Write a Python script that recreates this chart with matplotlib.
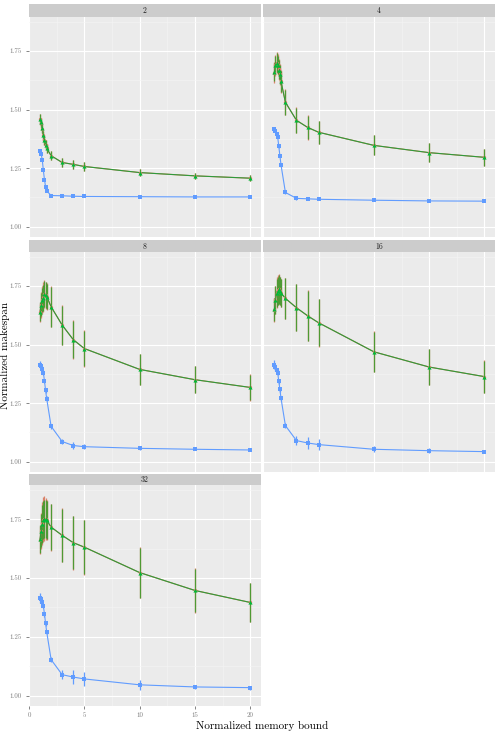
import matplotlib
matplotlib.use("Agg")
import matplotlib.pyplot as plt

plt.rcParams["font.family"] = ["cmr10", "DejaVu Serif"]
plt.rcParams["axes.formatter.use_mathtext"] = True

# memory bound values (shared by every facet)
x = [1.0, 1.1, 1.2, 1.3, 1.4, 1.5, 1.6, 2, 3, 4, 5, 10, 15, 20]

facets = ["2", "4", "8", "16", "32"]

# facet 2
red_2 = [1.458, 1.443, 1.418, 1.39, 1.369, 1.35, 1.334, 1.303, 1.274, 1.266, 1.257, 1.231, 1.217, 1.207]
red_2_err = [0.022, 0.022, 0.02, 0.02, 0.02, 0.02, 0.02, 0.02, 0.018, 0.018, 0.018, 0.015, 0.013, 0.012]
green_2 = [1.46, 1.445, 1.42, 1.39, 1.37, 1.35, 1.335, 1.303, 1.274, 1.266, 1.257, 1.231, 1.217, 1.207]
green_2_err = [0.02, 0.02, 0.02, 0.02, 0.02, 0.02, 0.02, 0.02, 0.018, 0.018, 0.018, 0.015, 0.013, 0.012]
blue_2 = [1.325, 1.31, 1.285, 1.24, 1.20, 1.17, 1.153, 1.133, 1.132, 1.130, 1.129, 1.128, 1.127, 1.127]
blue_2_err = [0.005, 0.005, 0.005, 0.004, 0.004, 0.004, 0.004, 0.003, 0.003, 0.003, 0.003, 0.003, 0.003, 0.003]

# facet 4
red_4 = [1.658, 1.688, 1.70, 1.692, 1.672, 1.65, 1.62, 1.531, 1.454, 1.424, 1.403, 1.347, 1.316, 1.296]
red_4_err = [0.045, 0.045, 0.045, 0.045, 0.045, 0.045, 0.05, 0.055, 0.055, 0.052, 0.05, 0.043, 0.04, 0.035]
green_4 = [1.66, 1.69, 1.70, 1.69, 1.67, 1.65, 1.62, 1.531, 1.454, 1.424, 1.403, 1.347, 1.316, 1.296]
green_4_err = [0.04, 0.04, 0.04, 0.04, 0.04, 0.04, 0.045, 0.053, 0.053, 0.05, 0.05, 0.043, 0.04, 0.035]
blue_4 = [1.417, 1.41, 1.397, 1.383, 1.343, 1.303, 1.264, 1.146, 1.121, 1.119, 1.117, 1.113, 1.11, 1.109]
blue_4_err = [0.008, 0.006, 0.006, 0.006, 0.005, 0.005, 0.005, 0.005, 0.005, 0.004, 0.004, 0.003, 0.003, 0.003]

# facet 8
red_8 = [1.638, 1.668, 1.692, 1.702, 1.716, 1.71, 1.705, 1.661, 1.583, 1.521, 1.483, 1.394, 1.35, 1.317]
red_8_err = [0.04, 0.055, 0.06, 0.065, 0.06, 0.058, 0.056, 0.088, 0.085, 0.082, 0.078, 0.066, 0.058, 0.056]
green_8 = [1.64, 1.67, 1.69, 1.70, 1.715, 1.71, 1.705, 1.661, 1.583, 1.521, 1.483, 1.394, 1.35, 1.317]
green_8_err = [0.04, 0.05, 0.05, 0.055, 0.055, 0.055, 0.055, 0.086, 0.083, 0.08, 0.075, 0.065, 0.057, 0.055]
blue_8 = [1.414, 1.409, 1.397, 1.38, 1.344, 1.304, 1.269, 1.151, 1.086, 1.069, 1.064, 1.057, 1.053, 1.05]
blue_8_err = [0.015, 0.01, 0.01, 0.01, 0.01, 0.01, 0.01, 0.01, 0.012, 0.015, 0.01, 0.006, 0.005, 0.004]

# facet 16
red_16 = [1.648, 1.69, 1.722, 1.732, 1.736, 1.73, 1.72, 1.697, 1.657, 1.623, 1.593, 1.469, 1.404, 1.363]
red_16_err = [0.05, 0.06, 0.065, 0.065, 0.065, 0.06, 0.06, 0.088, 0.10, 0.108, 0.102, 0.087, 0.076, 0.069]
green_16 = [1.65, 1.69, 1.72, 1.73, 1.735, 1.73, 1.72, 1.697, 1.657, 1.623, 1.593, 1.469, 1.404, 1.363]
green_16_err = [0.05, 0.06, 0.06, 0.06, 0.06, 0.06, 0.06, 0.086, 0.10, 0.107, 0.10, 0.086, 0.075, 0.068]
blue_16 = [1.414, 1.404, 1.39, 1.38, 1.343, 1.309, 1.271, 1.154, 1.09, 1.08, 1.073, 1.053, 1.047, 1.043]
blue_16_err = [0.02, 0.015, 0.01, 0.01, 0.01, 0.01, 0.01, 0.01, 0.02, 0.025, 0.025, 0.013, 0.01, 0.008]

# facet 32
red_32 = [1.662, 1.70, 1.732, 1.747, 1.752, 1.751, 1.745, 1.716, 1.681, 1.65, 1.631, 1.523, 1.447, 1.396]
red_32_err = [0.06, 0.075, 0.09, 0.095, 0.095, 0.09, 0.085, 0.1, 0.115, 0.115, 0.117, 0.107, 0.094, 0.083]
green_32 = [1.665, 1.70, 1.73, 1.745, 1.75, 1.75, 1.745, 1.716, 1.681, 1.65, 1.631, 1.523, 1.447, 1.396]
green_32_err = [0.06, 0.07, 0.08, 0.08, 0.08, 0.08, 0.08, 0.099, 0.114, 0.114, 0.116, 0.106, 0.093, 0.082]
blue_32 = [1.414, 1.41, 1.399, 1.381, 1.346, 1.307, 1.271, 1.153, 1.089, 1.079, 1.071, 1.046, 1.037, 1.034]
blue_32_err = [0.02, 0.015, 0.01, 0.01, 0.01, 0.01, 0.01, 0.01, 0.02, 0.03, 0.03, 0.02, 0.01, 0.008]

series = {
    "2": [(red_2, red_2_err), (green_2, green_2_err), (blue_2, blue_2_err)],
    "4": [(red_4, red_4_err), (green_4, green_4_err), (blue_4, blue_4_err)],
    "8": [(red_8, red_8_err), (green_8, green_8_err), (blue_8, blue_8_err)],
    "16": [(red_16, red_16_err), (green_16, green_16_err), (blue_16, blue_16_err)],
    "32": [(red_32, red_32_err), (green_32, green_32_err), (blue_32, blue_32_err)],
}
point_colors = ["#F8766D", "#00BA38", "#619CFF"]
line_colors = ["#E0805A", "#2E9A3C", "#619CFF"]
err_colors = ["#D9826A", "#4E9A34", "#619CFF"]
markers = ["o", "^", "s"]
marker_sizes = [2.4, 3.0, 3.4]

x_ticks = [0, 5, 10, 15, 20]
y_ticks = [1.00, 1.25, 1.50, 1.75]
y_tick_labels = ["1.00", "1.25", "1.50", "1.75"]

W, H = 497, 731
fig = plt.figure(figsize=(W / 100, H / 100), dpi=100)

col_x = [29.0, 263.3]
col_w = 231.7
# (strip top, panel top, panel bottom) in pixels from the top
rows = [(4, 17, 237), (240, 252, 472), (474, 485, 706)]

for i, name in enumerate(facets):
    r, c = divmod(i, 2)
    s_top, p_top, p_bot = rows[r]
    ax = fig.add_axes([col_x[c] / W, 1 - p_bot / H, col_w / W, (p_bot - p_top) / H])
    st = fig.add_axes([col_x[c] / W, 1 - p_top / H, col_w / W, (p_top - s_top) / H])
    st.set_facecolor("#CCCCCC")
    st.set_xticks([])
    st.set_yticks([])
    for sp in st.spines.values():
        sp.set_visible(False)
    st.text(0.5, 0.45, name, ha="center", va="center", fontsize=5.5, color="#1A1A1A", transform=st.transAxes)

    ax.set_facecolor("#EBEBEB")
    for sp in ax.spines.values():
        sp.set_visible(False)
    ax.set_xlim(0.05, 20.95)
    ax.set_ylim(0.956, 1.895)
    ax.set_xticks(x_ticks)
    ax.set_xticks([2.5, 7.5, 12.5, 17.5], minor=True)
    ax.set_yticks(y_ticks)
    ax.set_yticks([1.125, 1.375, 1.625, 1.875], minor=True)
    ax.grid(True, which="major", color="white", lw=0.8)
    ax.grid(True, which="minor", color="#F5F5F5", lw=0.4)
    ax.set_axisbelow(True)
    ax.tick_params(which="minor", length=0)
    ax.tick_params(which="major", length=2.5, width=0.5, color="#555555", labelsize=5,
                   labelcolor="#7F7F7F", pad=3)
    if c == 0:
        ax.set_yticklabels(y_tick_labels)
    else:
        ax.tick_params(axis="y", length=0, labelleft=False)
    if name == "32":
        ax.set_xticklabels([str(t) for t in x_ticks])
        ax.tick_params(axis="x", pad=2)
    else:
        ax.tick_params(axis="x", length=0, labelbottom=False)

    for k, ((vals, errs), mk) in enumerate(zip(series[name], markers)):
        ax.errorbar(x, vals, yerr=errs, fmt="none", ecolor=err_colors[k], elinewidth=0.9,
                    capsize=0, zorder=2 + k * 0.1)
        ax.plot(x, vals, color=line_colors[k], lw=0.8, zorder=3 + k * 0.1)
        ax.plot(x, vals, ls="none", marker=mk, color=point_colors[k], ms=marker_sizes[k], mew=0,
                zorder=4 + k * 0.1)

fig.text(262 / W, 1 - 726 / H, "Normalized memory bound", ha="center", va="center", fontsize=8)
fig.text(5 / W, 1 - 355 / H, "Normalized makespan", ha="center", va="center", rotation=90, fontsize=8)

fig.savefig("out.png", dpi=100)
